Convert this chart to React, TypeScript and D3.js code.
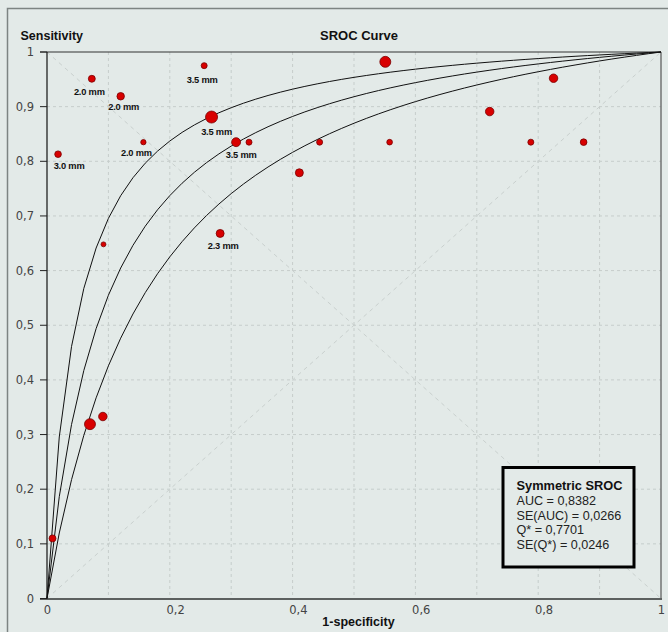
import React from 'react';
import * as d3 from 'd3';

// study points: 1-specificity, sensitivity, weight
const fpr = [0.009, 0.070, 0.091, 0.092, 0.018, 0.073, 0.120, 0.157, 0.256, 0.268, 0.308,
  0.329, 0.282, 0.411, 0.444, 0.551, 0.558, 0.721, 0.825, 0.788, 0.874];
const sens = [0.110, 0.319, 0.333, 0.648, 0.813, 0.951, 0.919, 0.835, 0.975, 0.881, 0.835,
  0.835, 0.668, 0.779, 0.835, 0.982, 0.835, 0.891, 0.952, 0.835, 0.835];
const weight = [12, 30, 18, 6, 11, 12, 14, 7, 9, 36, 20, 9, 16, 16, 9, 30, 8, 18, 18, 9, 11];
const thickness = ['', '', '', '', '3.0 mm', '2.0 mm', '2.0 mm', '2.0 mm', '3.5 mm', '3.5 mm',
  '3.5 mm', '', '2.3 mm', '', '', '', '', '', '', '', ''];

const qStar = 0.7701;
const seQ = 0.0246;
const legendLines = ['AUC = 0,8382', 'SE(AUC) = 0,0266', 'Q* = 0,7701', 'SE(Q*) = 0,0246'];
const ticks = d3.range(0, 11).map(d => d / 10);

// where the thickness labels sit relative to their point
const labelOffset: Record<number, [number, number]> = {
  4: [11, 14.7], 5: [-2.5, 16.6], 6: [3, 13.3], 7: [-7, 13.7], 8: [-2, 17.6],
  9: [5, 17.7], 10: [5, 16], 12: [3, 16],
};

const bg = '#e3eae8';
const fmt = (v: number) => (v === 0 || v === 1 ? String(v) : d3.format('.1f')(v).replace('.', ','));

export default function App() {
  const width = 668, height = 632;
  const left = 47, right = 661, top = 52, bottom = 598.5;

  const x = d3.scaleLinear().domain([0, 1]).range([left, right]);
  const y = d3.scaleLinear().domain([0, 1]).range([bottom, top]);
  const r = d3.scaleSqrt().domain([0, 36]).range([0, 6]);

  // symmetric SROC curve with constant DOR, sampled on a coarse grid like the original software
  const samples = d3.range(0, 1.0001, 0.02);
  const curveFor = (q: number) => {
    const dor = Math.pow(q / (1 - q), 2);
    return samples.map(f => [f, (dor * f) / (1 - f + dor * f)] as [number, number]);
  };
  const line = d3.line<[number, number]>().x(d => x(d[0])).y(d => y(d[1]));
  const curves = [qStar + 2 * seQ, qStar, qStar - 2 * seQ].map(q => line(curveFor(q)) || '');

  const sans = '"Liberation Sans", Arial, sans-serif';

  return (
    <svg width={width} height={height} style={{ position: 'absolute', left: 0, top: 0, background: bg }}>
      <rect x={0} y={0} width={width} height={height} fill={bg} />
      {/* outer frame */}
      <path d={`M7.5,${height} V8.5 H${width}`} fill="none" stroke="#7d8482" strokeWidth={1.5} />

      {/* grid */}
      {ticks.slice(1, 10).map(t => (
        <g key={'g' + t}>
          <line x1={x(t)} x2={x(t)} y1={top} y2={bottom} stroke="#c6cdcb" strokeDasharray="3,3" />
          <line x1={left} x2={right} y1={y(t)} y2={y(t)} stroke="#c6cdcb" strokeDasharray="3,3" />
        </g>
      ))}
      <line x1={x(0)} y1={y(0)} x2={x(1)} y2={y(1)} stroke="#c9d0ce" strokeDasharray="4,4" />
      <line x1={x(0)} y1={y(1)} x2={x(1)} y2={y(0)} stroke="#c9d0ce" strokeDasharray="4,4" />

      {/* axes and frame of plot */}
      <line x1={40} x2={right} y1={top} y2={top} stroke="#333" strokeWidth={1.2} />
      <line x1={right} x2={right} y1={top} y2={bottom} stroke="#555" strokeWidth={1.2} />
      <line x1={left} x2={left} y1={top} y2={bottom} stroke="#111" strokeWidth={1.2} />
      <line x1={40} x2={right + 1} y1={bottom + 0.5} y2={bottom + 0.5} stroke="#5c605f" strokeWidth={2} />
      {ticks.map(t => (
        <g key={'t' + t}>
          <line x1={40} x2={left} y1={y(t)} y2={y(t)} stroke="#222" />
          <text x={34} y={y(t)} dy="0.36em" textAnchor="end" fontFamily="DejaVu Sans, sans-serif"
            fontSize={11.5} fill="#444">{fmt(t)}</text>
        </g>
      ))}
      {ticks.filter((_, i) => i % 2 === 0).map(t => (
        <text key={'x' + t} x={x(t) - 3.3} y={613.5} fontFamily="DejaVu Sans, sans-serif"
          fontSize={11.5} fill="#444">{fmt(t)}</text>
      ))}

      {/* curves */}
      {curves.map((d, i) => (
        <path key={'c' + i} d={d} fill="none" stroke="#111" strokeWidth={1} />
      ))}

      {/* study points */}
      {fpr.map((f, i) => (
        <circle key={'p' + i} cx={x(f)} cy={y(sens[i])} r={r(weight[i])}
          fill="#d80000" stroke="#7a0000" strokeWidth={0.8} />
      ))}
      {thickness.map((t, i) => t && (
        <text key={'l' + i} x={x(fpr[i]) + labelOffset[i][0]} y={y(sens[i]) + labelOffset[i][1]}
          textAnchor="middle" fontFamily={sans} fontWeight="bold" fontSize={9.3}
          letterSpacing={-0.2} fill="#111">{t}</text>
      ))}

      {/* titles */}
      <text x={20.5} y={40} fontFamily={sans} fontWeight="bold" fontSize={12.5} fill="#111">Sensitivity</text>
      <text x={359} y={39.5} textAnchor="middle" fontFamily={sans} fontWeight="bold" fontSize={13} fill="#111">SROC Curve</text>
      <text x={358.5} y={626} textAnchor="middle" fontFamily={sans} fontWeight="bold" fontSize={12.5} fill="#111">1-specificity</text>

      {/* legend */}
      <rect x={503} y={467.5} width={131} height={99.5} fill={bg} stroke="#000" strokeWidth={3} />
      <text x={516.5} y={490} fontFamily={sans} fontWeight="bold" fontSize={12.8} fill="#111">Symmetric SROC</text>
      {legendLines.map((s, i) => (
        <text key={s} x={516.5} y={505 + i * 14.5} fontFamily={sans} fontSize={12.6} fill="#222">{s}</text>
      ))}
    </svg>
  );
}
